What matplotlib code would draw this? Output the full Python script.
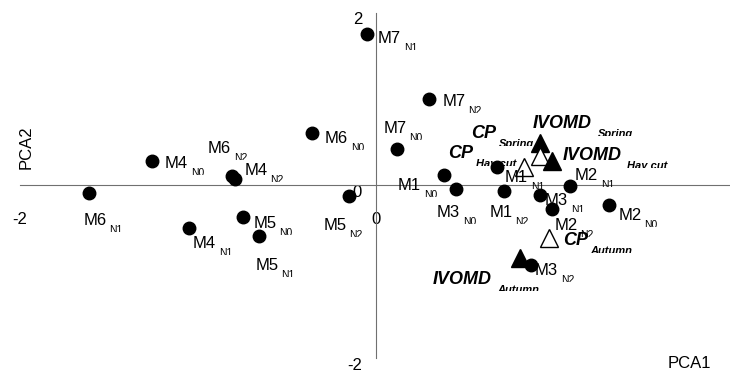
import matplotlib.pyplot as plt
from matplotlib.transforms import Bbox

plt.rcParams['font.family'] = ['Liberation Sans', 'DejaVu Sans']

# Site x nitrogen treatment scores on the first two components
site_names = ['M1', 'M1', 'M1', 'M2', 'M2', 'M2', 'M3', 'M3', 'M3',
              'M4', 'M4', 'M4', 'M5', 'M5', 'M5', 'M6', 'M6', 'M6',
              'M7', 'M7', 'M7']
n_levels = ['N0', 'N1', 'N2'] * 7
site_pca1 = [0.38, 0.68, 0.72, 1.31, 1.09, 0.99, 0.45, 0.92, 0.87,
             -1.26, -1.05, -0.79, -0.75, -0.66, -0.15, -0.36, -1.61, -0.81,
             0.12, -0.05, 0.30]
site_pca2 = [0.12, 0.21, -0.06, -0.23, -0.01, -0.27, -0.04, -0.11, -0.92,
             0.28, -0.49, 0.08, -0.37, -0.58, -0.12, 0.61, -0.09, 0.11,
             0.42, 1.76, 1.00]

# Forage quality variables projected onto the same plane
trait_names = ['IVOMD', 'CP', 'IVOMD', 'CP', 'CP', 'IVOMD']
trait_seasons = ['Spring', 'Spring', 'Hay cut', 'Hay cut', 'Autumn', 'Autumn']
trait_pca1 = [0.92, 0.92, 0.99, 0.83, 0.97, 0.81]
trait_pca2 = [0.49, 0.34, 0.28, 0.21, -0.61, -0.84]

axis_ticks = [-2, 0, 2]

# label placement, pixels right / down from the marker
site_label_offsets = [(-46, 15), (8, 15), (-15, 26), (9, 15), (5, -6), (2, 21),
                      (-19, 28), (5, 10), (4, 10), (13, 7), (4, 20), (9, -4),
                      (11, 11), (-3, 34), (-26, 34), (13, 10), (-6, 32), (-24, -23),
                      (-14, -16), (11, 9), (13, 7)]
trait_label_offsets = [(-7, -15), (-69, -18), (10, -1), (-76, -9), (14, 7), (-88, 26)]
sub_shift = {'M': (26, 8), 'CP': (28, 9), 'IVOMD': (65, 9)}

fig = plt.figure(figsize=(7.3, 3.72), dpi=100)
ax = fig.add_axes([0, 0, 1, 1])
ax.set_xlim(-2.1124, 1.9887)
ax.set_ylim(-2.1623, 2.1507)
ax.axis('off')


def clipped_sub(text, x, y, dx, dy, cut, **kw):
    # small subscript whose lower part is trimmed just above the baseline
    t = ax.annotate(text, (x, y), xytext=(dx, dy), textcoords='offset pixels',
                    va='baseline', zorder=4, **kw)
    base = ax.transData.transform((x, y))[1] + dy
    t.set_clip_box(Bbox([[0, base + cut], [fig.bbox.width, fig.bbox.height]]))
    t.set_clip_on(True)
    return t


# axes crossing at the origin
ax.plot([axis_ticks[0], axis_ticks[-1]], [0, 0], color='#707070', lw=0.8, zorder=1)
ax.plot([0, 0], [axis_ticks[0], axis_ticks[-1]], color='#707070', lw=0.8, zorder=1)

for t in axis_ticks:
    ax.annotate(str(t), (t, 0), xytext=(0, -34), textcoords='offset pixels',
                ha='center', va='center', fontsize=12, zorder=0)
    ax.annotate(str(t), (0, t), xytext=(-14, -7), textcoords='offset pixels',
                ha='right', va='center', fontsize=12, zorder=0)

ax.text(0.915, 0.011, 'PCA1', transform=ax.transAxes, fontsize=12, va='baseline')
ax.text(0.0356, 0.605, 'PCA2', transform=ax.transAxes, fontsize=12,
        rotation=90, ha='center', va='center')

# treatment points
ax.plot(site_pca1, site_pca2, 'o', color='black', markersize=9, zorder=3)
for name, lvl, x, y, (dx, dy) in zip(site_names, n_levels, site_pca1, site_pca2,
                                     site_label_offsets):
    ax.annotate(name, (x, y), xytext=(dx, -dy), textcoords='offset pixels',
                fontsize=12, va='baseline', zorder=4)
    sx, sy = sub_shift['M']
    clipped_sub(lvl, x, y, dx + sx, -dy - sy, 1, fontsize=7.5)

# quality variables: filled = IVOMD, open = CP
for name, season, x, y, (dx, dy) in zip(trait_names, trait_seasons, trait_pca1,
                                        trait_pca2, trait_label_offsets):
    face = 'black' if name == 'IVOMD' else 'white'
    ax.plot(x, y, '^', markersize=13, markerfacecolor=face,
            markeredgecolor='black', markeredgewidth=1, zorder=3)
    ax.annotate(name, (x, y), xytext=(dx, -dy), textcoords='offset pixels',
                fontsize=13, fontweight='bold', fontstyle='italic',
                va='baseline', zorder=4)
    sx, sy = sub_shift[name]
    clipped_sub(season, x, y, dx + sx, -dy - sy, 1.5,
                fontsize=8, fontweight='bold', fontstyle='italic')

fig.savefig('out.png', dpi=100)
